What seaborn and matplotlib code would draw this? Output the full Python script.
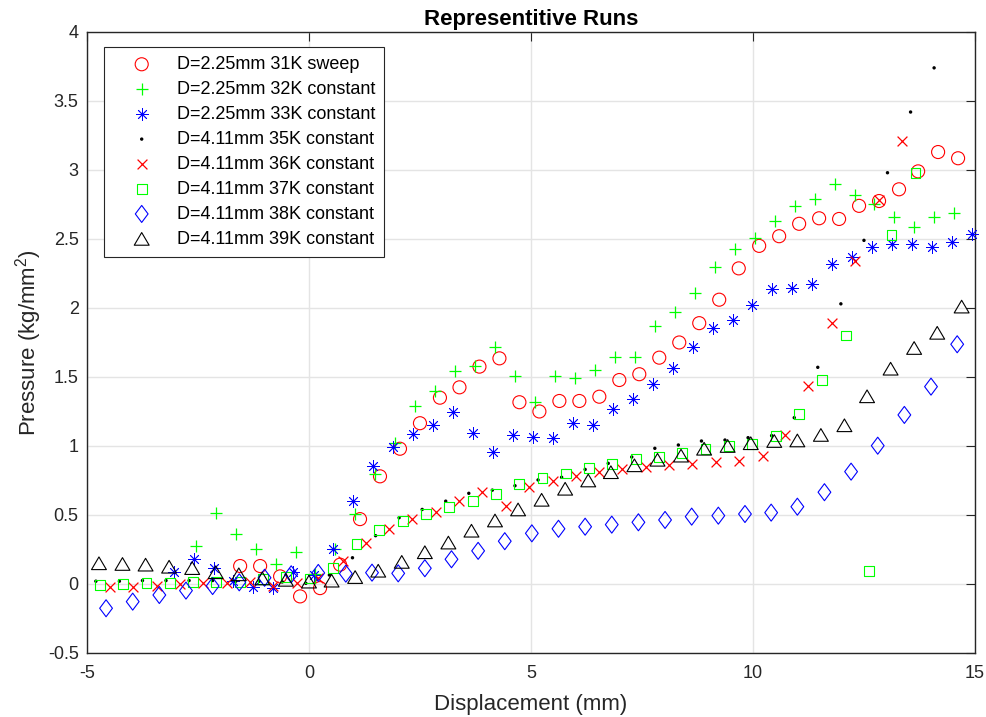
import numpy as np
import matplotlib
matplotlib.use("Agg")
import matplotlib.pyplot as plt
from matplotlib.path import Path
from matplotlib.ticker import FuncFormatter
import seaborn as sns

# ---- measured runs: displacement (mm) and pressure (kg/mm^2) ----
labels = [
    "D=2.25mm 31K sweep",
    "D=2.25mm 32K constant",
    "D=2.25mm 33K constant",
    "D=4.11mm 35K constant",
    "D=4.11mm 36K constant",
    "D=4.11mm 37K constant",
    "D=4.11mm 38K constant",
    "D=4.11mm 39K constant",
]

disp_31k = [-1.55, -1.10, -0.65, -0.20, 0.25, 0.70, 1.15, 1.60, 2.05, 2.50,
            2.95, 3.39, 3.84, 4.29, 4.74, 5.19, 5.64, 6.09, 6.54, 6.99,
            7.44, 7.89, 8.34, 8.79, 9.24, 9.68, 10.14, 10.59, 11.04, 11.49,
            11.94, 12.39, 12.84, 13.29, 13.72, 14.17, 14.62]
pres_31k = [0.13, 0.13, 0.055, -0.09, -0.03, 0.14, 0.47, 0.78, 0.98, 1.165,
            1.35, 1.425, 1.575, 1.635, 1.317, 1.25, 1.326, 1.326, 1.357, 1.478,
            1.52, 1.64, 1.75, 1.89, 2.06, 2.287, 2.45, 2.52, 2.61, 2.65,
            2.645, 2.74, 2.775, 2.86, 2.99, 3.13, 3.085]

disp_32k = [-2.55, -2.09, -1.65, -1.20, -0.75, -0.30, 0.14, 0.59, 1.04, 1.49,
            1.94, 2.39, 2.84, 3.29, 3.74, 4.19, 4.64, 5.09, 5.54, 5.99,
            6.44, 6.89, 7.34, 7.79, 8.24, 8.69, 9.14, 9.59, 10.05, 10.50,
            10.95, 11.40, 11.85, 12.30, 12.73, 13.18, 13.63, 14.08, 14.53]
pres_32k = [0.275, 0.517, 0.362, 0.255, 0.148, 0.232, 0.07, 0.25, 0.505, 0.80,
            1.02, 1.29, 1.40, 1.546, 1.58, 1.715, 1.51, 1.317, 1.51, 1.495,
            1.55, 1.647, 1.647, 1.87, 1.97, 2.11, 2.295, 2.43, 2.505, 2.63,
            2.74, 2.79, 2.90, 2.82, 2.75, 2.657, 2.59, 2.657, 2.69]

disp_33k = [-3.05, -2.60, -2.15, -1.70, -1.25, -0.80, -0.35, 0.11, 0.55, 1.00,
            1.45, 1.90, 2.35, 2.80, 3.25, 3.70, 4.14, 4.59, 5.04, 5.49,
            5.94, 6.39, 6.84, 7.29, 7.74, 8.19, 8.64, 9.09, 9.54, 9.98,
            10.43, 10.89, 11.34, 11.79, 12.24, 12.69, 13.14, 13.59, 14.04, 14.49,
            14.94]
pres_33k = [0.09, 0.18, 0.114, 0.024, -0.025, -0.027, 0.087, 0.065, 0.25, 0.604,
            0.855, 0.995, 1.087, 1.152, 1.244, 1.097, 0.959, 1.08, 1.063, 1.056,
            1.169, 1.152, 1.266, 1.338, 1.449, 1.567, 1.72, 1.853, 1.913, 2.02,
            2.135, 2.142, 2.174, 2.32, 2.367, 2.444, 2.464, 2.464, 2.444, 2.48,
            2.534]

disp_35k = [-4.80, -4.27, -3.75, -3.22, -2.70, -2.17, -1.65, -1.12, -0.60, -0.07,
            0.46, 0.98, 1.50, 2.03, 2.55, 3.08, 3.60, 4.13, 4.64, 5.16,
            5.69, 6.22, 6.74, 7.27, 7.79, 8.32, 8.84, 9.37, 9.89, 10.42,
            10.93, 11.46, 11.98, 12.50, 13.03, 13.55, 14.08]
pres_35k = [0.02, 0.02, 0.025, 0.025, 0.025, 0.025, 0.02, 0.02, 0.015, 0.005,
            0.065, 0.19, 0.35, 0.48, 0.54, 0.60, 0.657, 0.68, 0.712, 0.754,
            0.773, 0.83, 0.874, 0.92, 0.983, 1.007, 1.036, 1.043, 1.06, 1.075,
            1.205, 1.57, 2.03, 2.49, 2.98, 3.42, 3.74]

disp_36k = [-4.48, -3.96, -3.43, -2.91, -2.38, -1.85, -1.33, -0.81, -0.28, 0.21,
            0.76, 1.29, 1.80, 2.33, 2.85, 3.38, 3.90, 4.43, 4.95, 5.49,
            6.01, 6.53, 7.06, 7.58, 8.11, 8.63, 9.16, 9.68, 10.22, 10.72,
            11.25, 11.79, 12.30, 12.84, 13.35]
pres_36k = [-0.024, -0.02, -0.014, 0.0, 0.007, 0.007, 0.017, -0.018, 0.005, 0.04,
            0.17, 0.30, 0.40, 0.47, 0.524, 0.604, 0.665, 0.567, 0.705, 0.746,
            0.785, 0.81, 0.83, 0.85, 0.862, 0.867, 0.886, 0.89, 0.927, 1.08,
            1.435, 1.89, 2.34, 2.78, 3.21]

disp_37k = [-4.71, -4.18, -3.66, -3.13, -2.61, -2.09, -1.56, -1.04, -0.51, 0.02,
            0.55, 1.07, 1.58, 2.11, 2.64, 3.16, 3.69, 4.21, 4.73, 5.26,
            5.78, 6.31, 6.83, 7.36, 7.88, 8.41, 8.93, 9.46, 9.98, 10.51,
            11.04, 11.56, 12.09, 12.61, 13.12, 13.66]
pres_37k = [-0.007, 0.0, 0.005, 0.01, 0.017, 0.017, 0.017, 0.035, 0.05, 0.04,
            0.118, 0.288, 0.39, 0.456, 0.505, 0.556, 0.60, 0.652, 0.722, 0.77,
            0.80, 0.843, 0.87, 0.906, 0.923, 0.947, 0.976, 1.002, 1.014, 1.07,
            1.23, 1.478, 1.80, 0.096, 2.53, 2.98]

disp_38k = [-4.57, -3.97, -3.37, -2.77, -2.17, -1.57, -1.00, -0.40, 0.21, 0.83,
            1.42, 2.01, 2.61, 3.21, 3.81, 4.41, 5.02, 5.62, 6.22, 6.82,
            7.42, 8.02, 8.62, 9.22, 9.82, 10.41, 11.00, 11.61, 12.21, 12.81,
            13.41, 14.01, 14.60]
pres_38k = [-0.176, -0.128, -0.08, -0.048, -0.015, 0.012, 0.045, 0.07, 0.08, 0.075,
            0.082, 0.077, 0.114, 0.179, 0.24, 0.31, 0.367, 0.40, 0.415, 0.43,
            0.447, 0.464, 0.488, 0.495, 0.507, 0.517, 0.56, 0.665, 0.814, 1.002,
            1.225, 1.43, 1.737]

disp_39k = [-4.73, -4.20, -3.68, -3.15, -2.63, -2.10, -1.58, -1.05, -0.52, 0.00,
            0.51, 1.04, 1.56, 2.09, 2.61, 3.14, 3.66, 4.19, 4.71, 5.24,
            5.77, 6.29, 6.80, 7.33, 7.85, 8.38, 8.90, 9.43, 9.95, 10.48,
            11.00, 11.53, 12.06, 12.57, 13.10, 13.63, 14.15, 14.70]
pres_39k = [0.15, 0.145, 0.14, 0.125, 0.115, 0.085, 0.07, 0.04, 0.03, 0.017,
            0.024, 0.05, 0.096, 0.16, 0.23, 0.30, 0.386, 0.46, 0.54, 0.61,
            0.69, 0.75, 0.81, 0.86, 0.90, 0.93, 0.98, 1.00, 1.02, 1.036,
            1.04, 1.08, 1.15, 1.36, 1.56, 1.71, 1.82, 2.01]

xticks = [-5, 0, 5, 10, 15]
yticks = [-0.5, 0, 0.5, 1, 1.5, 2, 2.5, 3, 3.5, 4]

# ---- style ----
sns.set_style("white")
plt.rcParams["font.family"] = ["Liberation Sans", "DejaVu Sans"]
plt.rcParams["mathtext.fontset"] = "custom"
plt.rcParams["mathtext.rm"] = "Liberation Sans"
plt.rcParams["mathtext.it"] = "Liberation Sans:italic"
plt.rcParams["mathtext.bf"] = "Liberation Sans:bold"

AX_COLOR = "#262626"

# MATLAB-like marker shapes
diamond = Path([(0, 1), (0.75, 0), (0, -1), (-0.75, 0), (0, 1)],
               [Path.MOVETO, Path.LINETO, Path.LINETO, Path.LINETO, Path.CLOSEPOLY])
triangle = Path([(0, 0.85), (-1, -0.85), (1, -0.85), (0, 0.85)],
                [Path.MOVETO, Path.LINETO, Path.LINETO, Path.CLOSEPOLY])

series = [
    (disp_31k, pres_31k, dict(marker="o", s=88, facecolor="none", edgecolor="#ff0000", linewidth=0.8)),
    (disp_32k, pres_32k, dict(marker="+", s=72, color="#00ff00", linewidth=0.9)),
    (disp_33k, pres_33k, dict(marker=(8, 2, 0), s=72, color="#0000ff", linewidth=0.6)),
    (disp_35k, pres_35k, dict(marker="o", s=6, color="#000000", edgecolor="none", linewidth=0)),
    (disp_36k, pres_36k, dict(marker="x", s=50, color="#ff0000", linewidth=0.9)),
    (disp_37k, pres_37k, dict(marker="s", s=50, facecolor="none", edgecolor="#00ff00", linewidth=0.8)),
    (disp_38k, pres_38k, dict(marker=diamond, s=150, facecolor="none", edgecolor="#0000ff", linewidth=0.8)),
    (disp_39k, pres_39k, dict(marker=triangle, s=115, facecolor="none", edgecolor="#000000", linewidth=0.8)),
]

fig = plt.figure(figsize=(9.86, 7.17), dpi=100)
ax = fig.add_axes([0.0882, 0.0893, 0.9006, 0.8661])

for (xs, ys, kw), lab in zip(series, labels):
    sns.scatterplot(x=xs, y=ys, ax=ax, label=lab, clip_on=False, zorder=3, **kw)

ax.set_xlim(-5, 15)
ax.set_ylim(-0.5, 4)
ax.set_xticks(xticks)
ax.set_yticks(yticks)
ax.xaxis.set_major_formatter(FuncFormatter(lambda v, p: f"{v:g}"))
ax.yaxis.set_major_formatter(FuncFormatter(lambda v, p: f"{v:g}"))

ax.grid(True, color="#e4e4e4", linewidth=1.0, zorder=0)
ax.set_axisbelow(True)
for sp in ax.spines.values():
    sp.set_visible(True)
    sp.set_color(AX_COLOR)
    sp.set_linewidth(1.0)

ax.tick_params(axis="both", which="major", direction="in", length=6.5, width=0.8,
               top=True, right=True, colors=AX_COLOR, labelsize=13,
               labelcolor=AX_COLOR)
ax.tick_params(axis="x", pad=9)
ax.tick_params(axis="y", pad=6)

ax.set_title("Representitive Runs", fontsize=16, fontweight="bold", pad=5, color="black")
ax.set_xlabel("Displacement (mm)", fontsize=16, color=AX_COLOR, labelpad=8)
ax.set_ylabel("Pressure (kg/mm$^{2}$)", fontsize=16, color=AX_COLOR, labelpad=3)

leg = ax.legend(loc="upper left", bbox_to_anchor=(17 / 888, 1 - 15 / 621),
                borderaxespad=0, fontsize=13, frameon=True, fancybox=False,
                framealpha=1, edgecolor=AX_COLOR, borderpad=0.5,
                handlelength=3.18, handletextpad=0.37, labelspacing=0.44,
                scatterpoints=1)
leg.get_frame().set_linewidth(0.8)
for t in leg.get_texts():
    t.set_color("black")

fig.savefig("out.png", dpi=100)
